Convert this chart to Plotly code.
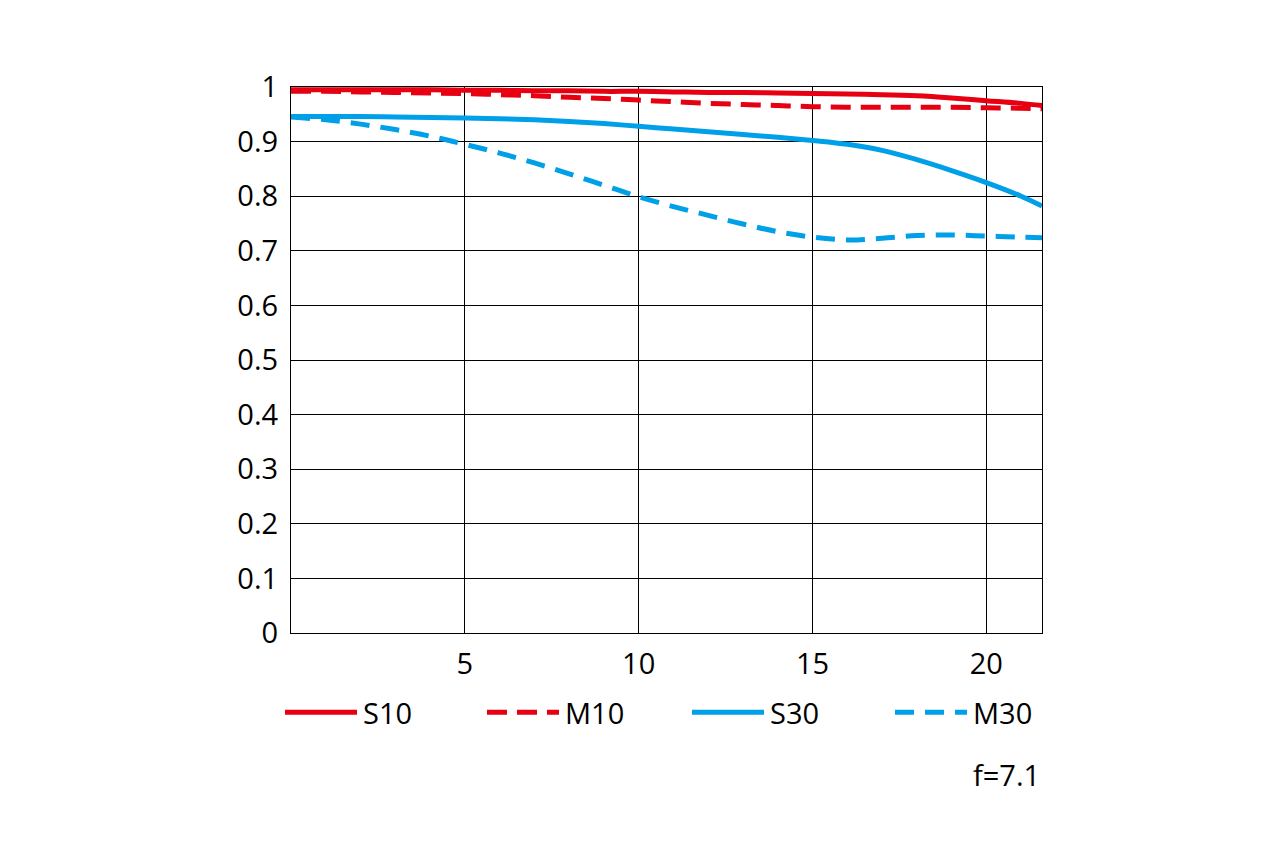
import plotly.graph_objects as go

x_pos = [0, 1, 2, 3, 4, 5, 6, 7, 8, 9, 10, 11, 12, 13, 14, 15, 16, 17, 18, 19, 20, 21, 21.6]
s10 = [0.995, 0.995, 0.995, 0.995, 0.995, 0.994, 0.994, 0.993, 0.993, 0.992, 0.992, 0.991, 0.990,
       0.990, 0.989, 0.988, 0.987, 0.986, 0.984, 0.980, 0.975, 0.970, 0.966]
m10 = [0.992, 0.992, 0.991, 0.990, 0.989, 0.988, 0.986, 0.984, 0.981, 0.979, 0.976, 0.973, 0.970,
       0.968, 0.966, 0.964, 0.963, 0.963, 0.963, 0.963, 0.962, 0.961, 0.960]
s30 = [0.946, 0.946, 0.946, 0.945, 0.944, 0.943, 0.942, 0.940, 0.937, 0.933, 0.928, 0.923, 0.918,
       0.913, 0.908, 0.902, 0.895, 0.884, 0.867, 0.847, 0.825, 0.800, 0.782]
m30 = [0.945, 0.940, 0.932, 0.922, 0.910, 0.895, 0.879, 0.861, 0.841, 0.820, 0.799, 0.781, 0.765,
       0.749, 0.735, 0.725, 0.720, 0.723, 0.728, 0.729, 0.727, 0.725, 0.724]

series_names = ["S10", "M10", "S30", "M30"]
x_tickvals = [5, 10, 15, 20]
x_ticktext = ["5", "10", "15", "20"]
y_tickvals = [0, 0.1, 0.2, 0.3, 0.4, 0.5, 0.6, 0.7, 0.8, 0.9, 1]
y_ticktext = ["0", "0.1", "0.2", "0.3", "0.4", "0.5", "0.6", "0.7", "0.8", "0.9", "1"]
aperture_label = "f=7.1"

RED = "#E60012"
BLUE = "#00A0E9"
styles = [
    dict(color=RED, dash="solid"),
    dict(color=RED, dash="20px,10px"),
    dict(color=BLUE, dash="solid"),
    dict(color=BLUE, dash="19px,11px"),
]
FONT = "Open Sans"
FS = 29

fig = go.Figure()
for name, ys, st in zip(series_names, [s10, m10, s30, m30], styles):
    fig.add_trace(go.Scatter(
        x=x_pos, y=ys, mode="lines", name=name,
        line=dict(color=st["color"], dash=st["dash"], width=5, shape="spline", smoothing=1.0),
        showlegend=False,
    ))

# manual legend (line samples + labels); positions in page pixels
L, R = 291, 1042
W = R - L
def px(xp):
    return (xp - L) / W

leg_starts = [285, 487, 692, 895]
leg_y = -0.145
for name, st, xs in zip(series_names, styles, leg_starts):
    fig.add_shape(type="line", xref="paper", yref="paper",
                  x0=px(xs), x1=px(xs + 72), y0=leg_y, y1=leg_y,
                  line=dict(color=st["color"], width=5, dash=st["dash"]))
    fig.add_annotation(xref="paper", yref="paper", x=px(xs + 76), y=leg_y,
                       text=name, showarrow=False, xanchor="left", yanchor="middle",
                       font=dict(family=FONT, size=FS, color="black"))

fig.add_annotation(xref="paper", yref="paper", x=1.0, y=-0.26,
                   text=aperture_label, showarrow=False, xanchor="right", yanchor="middle",
                   font=dict(family=FONT, size=FS, color="black"))

fig.update_layout(
    width=1280, height=860,
    margin=dict(l=283, r=246, t=79, b=235),
    paper_bgcolor="white", plot_bgcolor="white",
    font=dict(family=FONT, size=FS, color="black"),
)
fig.update_xaxes(range=[0, 21.6], tickvals=x_tickvals, ticktext=x_ticktext,
                 showgrid=True, gridcolor="black", gridwidth=1.2,
                 showline=True, linecolor="black", linewidth=1.2, mirror=True,
                 zeroline=False, ticks="", ticklabelstandoff=5,
                 tickfont=dict(family=FONT, size=FS, color="black"))
fig.update_yaxes(range=[0, 1], tickvals=y_tickvals, ticktext=y_ticktext,
                 showgrid=True, gridcolor="black", gridwidth=1.2,
                 showline=True, linecolor="black", linewidth=1.2, mirror=True,
                 zeroline=False, ticks="", ticklabelstandoff=6,
                 tickfont=dict(family=FONT, size=FS, color="black"))

fig.write_html("out.html")
